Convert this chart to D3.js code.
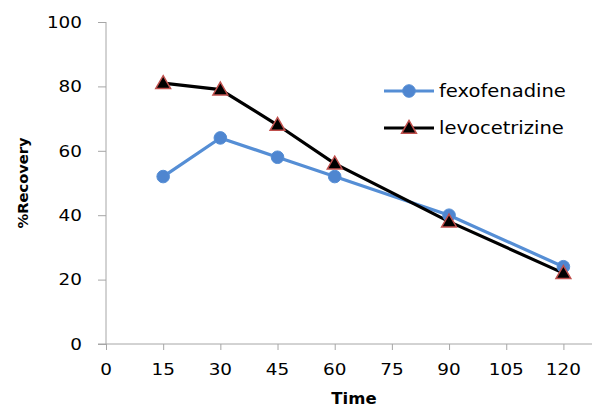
<!DOCTYPE html>
<html><head><meta charset="utf-8">
<script src="https://cdn.jsdelivr.net/npm/d3@7"></script>
<style>body{margin:0;background:#fff}svg{display:block}text{font-family:"DejaVu Sans",sans-serif}</style>
</head><body>
<script>
const times = [15, 30, 45, 60, 90, 120];
const fexofenadine = [52, 64, 58, 52, 40, 24];
const levocetrizine = [81, 79, 68, 56, 38, 22];
const xTicks = [0, 15, 30, 45, 60, 75, 90, 105, 120];
const yTicks = [0, 20, 40, 60, 80, 100];
const seriesNames = ["fexofenadine", "levocetrizine"];

const W = 592, H = 408;
const svg = d3.select("body").append("svg").attr("width", W).attr("height", H);
const x = d3.scaleLinear().domain([0, 127.5]).range([106, 592]);
const y = d3.scaleLinear().domain([0, 100]).range([344, 22]);
const axisColor = "#a6a6a6";
const sx = 1.15;

// y axis
const ya = svg.append("g").attr("transform", "translate(106,0)")
  .call(d3.axisLeft(y).tickValues(yTicks).tickSize(8).tickPadding(0).tickFormat(d => ""));
ya.select(".domain").attr("stroke", axisColor).attr("d", "M0,22V344");
ya.selectAll(".tick line").attr("stroke", axisColor);
yTicks.forEach(t => {
  svg.append("text").attr("transform", `translate(82,${y(t)+5.8}) scale(${sx},1)`)
    .attr("text-anchor", "end").attr("font-size", 16).attr("fill", "#000").text(t);
});

// x axis
const xa = svg.append("g").attr("transform", "translate(0,344)")
  .call(d3.axisBottom(x).tickValues(xTicks).tickSize(6).tickFormat(d => ""));
xa.select(".domain").attr("stroke", axisColor).attr("d", "M98,0H592");
xa.selectAll(".tick line").attr("stroke", axisColor);
xTicks.forEach(t => {
  svg.append("text").attr("transform", `translate(${x(t)},${375}) scale(${sx},1)`)
    .attr("text-anchor", "middle").attr("font-size", 16).attr("fill", "#000").text(t);
});

// axis titles
svg.append("text").attr("transform", `translate(354,404) scale(1.1,1)`)
  .attr("text-anchor", "middle").attr("font-size", 15).attr("font-weight", "bold").text("Time");
svg.append("text").attr("transform", `translate(28,183) rotate(-90) scale(1.05,1)`)
  .attr("text-anchor", "middle").attr("font-size", 14).attr("font-weight", "bold").text("%Recovery");

const blue = "#558ed5";
const line = d3.line().x(d => x(d[0])).y(d => y(d[1]));
const fData = times.map((t, i) => [t, fexofenadine[i]]);
const lData = times.map((t, i) => [t, levocetrizine[i]]);

svg.append("path").datum(fData).attr("d", line).attr("fill", "none").attr("stroke", blue).attr("stroke-width", 3.2);
svg.append("path").datum(lData).attr("d", line).attr("fill", "none").attr("stroke", "#000").attr("stroke-width", 3.2);

svg.selectAll("circle.f").data(fData).enter().append("circle")
  .attr("cx", d => x(d[0])).attr("cy", d => y(d[1])).attr("r", 6.3).attr("fill", "#4f86d0").attr("stroke", blue).attr("stroke-width", 1);

const tri = d3.symbol().type(d3.symbolTriangle).size(95);
svg.selectAll("path.l").data(lData).enter().append("path")
  .attr("transform", d => `translate(${x(d[0])},${y(d[1]) + 1})`)
  .attr("d", tri).attr("fill", "#000").attr("stroke", "#c0504d").attr("stroke-width", 1.5);

// legend
const leg = [{name: seriesNames[0], y: 91}, {name: seriesNames[1], y: 128}];
svg.append("line").attr("x1", 384).attr("x2", 434).attr("y1", 91).attr("y2", 91).attr("stroke", blue).attr("stroke-width", 3.2);
svg.append("circle").attr("cx", 409).attr("cy", 91).attr("r", 6.3).attr("fill", "#4f86d0").attr("stroke", blue);
svg.append("line").attr("x1", 384).attr("x2", 434).attr("y1", 128).attr("y2", 128).attr("stroke", "#000").attr("stroke-width", 3.2);
svg.append("path").attr("transform", "translate(409,129)").attr("d", tri).attr("fill", "#000").attr("stroke", "#c0504d").attr("stroke-width", 1.5);
leg.forEach(l => {
  svg.append("text").attr("transform", `translate(439,${l.y + 6}) scale(${sx},1)`)
    .attr("font-size", 17).attr("fill", "#000").text(l.name);
});
</script>
</body></html>
